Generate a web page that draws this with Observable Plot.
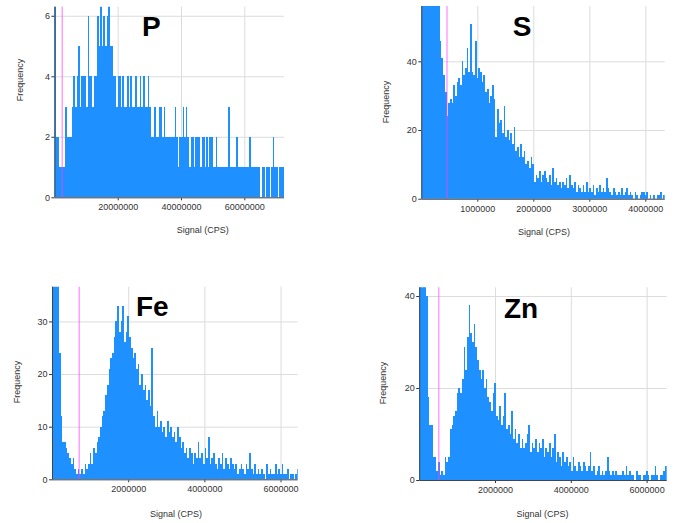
<!DOCTYPE html>
<html><head><meta charset="utf-8">
<script src="https://cdn.jsdelivr.net/npm/d3@7"></script>
<script src="https://cdn.jsdelivr.net/npm/@observablehq/plot@0.6"></script>
<style>
body{margin:0;background:#fff;}
#root{position:relative;width:676px;height:523px;overflow:hidden;background:#fff;font-family:"Liberation Sans",Arial,sans-serif;}
.panel{position:absolute;}
.xl{position:absolute;font-size:9px;color:#333;transform:translate(-50%,-50%);white-space:nowrap;}
.yl{position:absolute;font-size:9px;color:#333;transform:translate(-50%,-50%) rotate(-90deg);white-space:nowrap;}
.el{position:absolute;font-size:28px;font-weight:bold;color:#000;line-height:1;white-space:nowrap;}
</style></head><body><div id="root"></div>
<script>
// ---- data ----
const elements = ["P", "S", "Fe", "Zn"];
const xAxisLabel = "Signal (CPS)";
const yAxisLabel = "Frequency";

// P: bins of 500000 CPS
const pBinWidth = 500000;
const pCounts = [8,2,2,1,1,1,1,3,2,2,2,
 3,4,3,4,5,3,4,
 4,4,3,6,4,4,3,4,
 4,6,5,8,
 5,6,5,6,8,5,5,
 4,4,3,4,4,
 3,4,3,3,4,3,4,3,3,4,3,3,4,3,4,3,3,4,3,
 2,2,3,2,2,3,3,2,3,2,2,2,2,
 2,2,3,2,1,2,2,3,2,3,2,1,
 2,2,1,2,2,2,1,2,2,1,2,1,2,2,1,1,2,1,
 1,1,1,1,1,1,3,1,1,1,1,2,1,1,1,1,1,1,1,2,1,1,1,1,1,1,0,1,1,0,1,1,0,1,2,1,1,0,1,1,1];
const pXMax = 72540000, pYMax = 6.3, pThreshold = 2300000;
const pXTicks = [20000000, 40000000, 60000000];
const pYTicks = [0, 2, 4, 6];

// S: bins of 30000 CPS
const sBinWidth = 30000;
const sCounts = [70,70,70,70,70,70,70,70,70,70,70,
 46,41,36,31,24,28,29,28,33,30,
 34,35,33,40,36,38,44,37,51,37,
 36,46,35,38,37,34,36,31,32,28,
 30,33,29,18,26,22,23,19,27,18,
 20,17,19,16,21,14,15,12,16,12,
 14,10,11,9,12,10,5,7,6,8,
 5,7,8,6,5,7,4,9,5,6,
 4,5,3,5,4,6,3,7,4,3,
 5,2,4,3,2,4,2,5,2,3,
 2,4,1,3,2,4,2,3,2,6,
 3,2,1,3,2,1,2,1,3,1,
 2,3,1,2,1,0,2,1,0,1,
 2,2,1,2,0,1,0,1,0,1,
 1,2,0,1];
const sXMax = 4346000, sYMax = 56.1, sThreshold = 450000;
const sXTicks = [1000000, 2000000, 3000000, 4000000];
const sYTicks = [0, 20, 40];

// Fe: bins of 45000 CPS
const feBinWidth = 45000;
const feCounts = [60,60,60,60,
 24,12,7,7,6,5,4,3,4,2,
 1,2,1,2,1,3,2,3,5,3,
 6,5,7,8,10,12,13,16,18,21,
 23,24,27,30,33,28,30,33,26,28,
 31,27,25,23,24,21,22,18,20,17,
 18,15,17,14,25,12,10,13,10,11,
 9,10,8,11,9,10,8,9,7,10,
 8,6,7,5,6,4,6,5,3,5,
 4,7,4,5,3,6,4,8,3,4,
 5,3,2,4,3,5,2,4,3,2,
 4,3,2,3,1,2,3,2,1,3,
 2,5,2,1,3,1,2,1,2,1,
 0,3,1,2,1,1,3,1,2,1,
 3,1,1,2,0,1,1,0,1,2];
const feXMax = 6450000, feYMax = 36.6, feThreshold = 700000;
const feXTicks = [2000000, 4000000, 6000000];
const feYTicks = [0, 10, 20, 30];

// Zn: bins of 45000 CPS
const znBinWidth = 45000;
const znCounts = [60,60,60,60,
 40,18,12,12,5,5,2,4,1,2,
 1,5,4,5,11,12,14,15,19,20,
 19,22,29,24,31,38,32,30,34,29,
 26,24,22,24,20,22,18,17,15,19,
 21,14,13,16,12,14,19,11,12,10,
 15,9,11,8,10,7,9,7,8,10,
 12,6,8,7,9,6,8,7,9,5,
 7,6,8,5,7,10,4,6,5,3,
 6,4,5,3,4,2,5,3,2,4,
 3,2,4,3,2,3,6,2,3,1,
 2,3,1,2,1,2,5,2,1,2,
 1,2,1,1,1,2,1,3,1,2,
 1,1,0,2,1,1,0,1,1,2,
 1,0,1,1,3,1,0,1,1,2,3];
const znXMax = 6530000, znYMax = 41.9, znThreshold = 505000;
const znXTicks = [2000000, 4000000, 6000000];
const znYTicks = [0, 20, 40];

// ---- layout ----
const panels = [
  {name: elements[0], counts: pCounts, binWidth: pBinWidth, xMax: pXMax, yMax: pYMax, xTicks: pXTicks, yTicks: pYTicks, threshold: pThreshold,
   box: {left: 0, top: 0, width: 300, height: 220, ml: 54.4, mr: 16, mt: 6.7, mb: 22.7},
   xLab: [202.7, 230], yLab: [19.5, 80], title: [142, 13.3]},
  {name: elements[1], counts: sCounts, binWidth: sBinWidth, xMax: sXMax, yMax: sYMax, xTicks: sXTicks, yTicks: sYTicks, threshold: sThreshold,
   box: {left: 370, top: 0, width: 306, height: 220, ml: 51.3, mr: 11.3, mt: 6, mb: 21.3},
   xLab: [544, 231.7], yLab: [385.8, 102], title: [512.7, 13.3]},
  {name: elements[2], counts: feCounts, binWidth: feBinWidth, xMax: feXMax, yMax: feYMax, xTicks: feXTicks, yTicks: feYTicks, threshold: feThreshold,
   box: {left: 0, top: 280, width: 300, height: 220, ml: 52, mr: 2.3, mt: 6.7, mb: 20.7},
   xLab: [176, 514], yLab: [17, 382], title: [136, 293.3]},
  {name: elements[3], counts: znCounts, binWidth: znBinWidth, xMax: znXMax, yMax: znYMax, xTicks: znXTicks, yTicks: znYTicks, threshold: znThreshold,
   box: {left: 370, top: 280, width: 306, height: 220, ml: 49.2, mr: 9.3, mt: 7.3, mb: 20},
   xLab: [542.5, 514], yLab: [383, 383], title: [504, 295.3]}
];

const root = document.getElementById("root");
const fmt = d3.format("d");

for (const p of panels) {
  const bins = p.counts.map((c, i) => ({x1: i * p.binWidth, x2: (i + 1) * p.binWidth, n: c}));
  const b = p.box;
  const chart = Plot.plot({
    width: b.width, height: b.height,
    marginLeft: b.ml, marginRight: b.mr, marginTop: b.mt, marginBottom: b.mb,
    style: {fontSize: "9px", fontFamily: "'Liberation Sans', Arial, sans-serif", color: "#333", background: "transparent", overflow: "visible"},
    x: {domain: [0, p.xMax], ticks: p.xTicks, tickFormat: fmt, tickSize: 3, tickPadding: 3, label: null},
    y: {domain: [0, p.yMax], ticks: p.yTicks, tickFormat: fmt, tickSize: 3, tickPadding: 2, label: null},
    marks: [
      Plot.ruleX(p.xTicks, {stroke: "#dcdcdc"}),
      Plot.ruleY(p.yTicks, {stroke: "#dcdcdc"}),
      Plot.rectY(bins, {x1: "x1", x2: "x2", y: "n", fill: "#1E90FF", inset: 0, clip: true, shapeRendering: "crispEdges"}),
      Plot.ruleX([p.threshold], {stroke: "#ff40ff", strokeOpacity: 0.75}),
      Plot.ruleY([0], {stroke: "#444"}),
      Plot.ruleX([0], {stroke: "#444"})
    ]
  });
  const div = document.createElement("div");
  div.className = "panel";
  div.style.left = b.left + "px";
  div.style.top = b.top + "px";
  div.appendChild(chart);
  root.appendChild(div);

  const xl = document.createElement("div");
  xl.className = "xl"; xl.textContent = xAxisLabel;
  xl.style.left = p.xLab[0] + "px"; xl.style.top = p.xLab[1] + "px";
  root.appendChild(xl);

  const yl = document.createElement("div");
  yl.className = "yl"; yl.textContent = yAxisLabel;
  yl.style.left = p.yLab[0] + "px"; yl.style.top = p.yLab[1] + "px";
  root.appendChild(yl);

  const el = document.createElement("div");
  el.className = "el"; el.textContent = p.name;
  el.style.left = p.title[0] + "px"; el.style.top = p.title[1] + "px";
  root.appendChild(el);
}
</script></body></html>
